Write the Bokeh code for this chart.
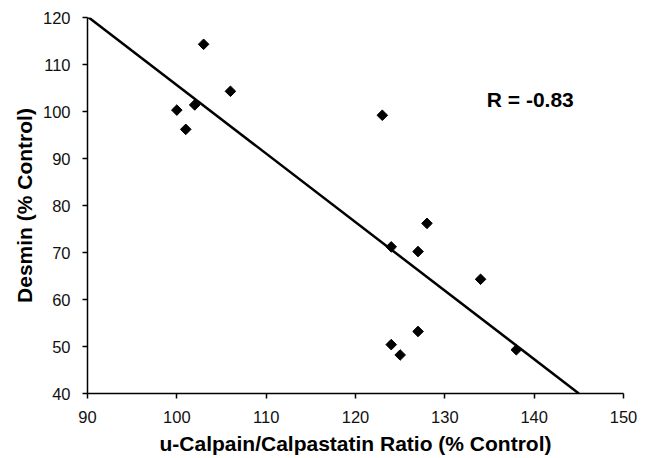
import numpy as np
from bokeh.plotting import figure
from bokeh.models import Range1d, FixedTicker, Label
from bokeh.embed import file_html
from bokeh.resources import INLINE

# data
ratio = [100, 101, 102, 103, 106, 123, 124, 127, 128, 134, 124, 125, 127, 138]
desmin = [100.3, 96.2, 101.4, 114.3, 104.3, 99.2, 71.2, 70.2, 76.2, 64.3, 50.4, 48.2, 53.2, 49.3]
fit_x = [90, 145]
fit_y = [120.2, 40]
x_ticks = [90, 100, 110, 120, 130, 140, 150]
y_ticks = [40, 50, 60, 70, 80, 90, 100, 110, 120]
r_label = "R = -0.83"

FONT = "Liberation Sans"

p = figure(width=649, height=458, output_backend="svg", toolbar_location=None,
           x_range=Range1d(90, 150), y_range=Range1d(40, 120),
           min_border_left=87, min_border_right=26, min_border_top=17, min_border_bottom=65)
p.frame_width = 536
p.frame_height = 376
p.outline_line_color = None
p.grid.visible = False
p.background_fill_color = "white"
p.border_fill_color = "white"

p.line(fit_x, fit_y, line_color="black", line_width=2.5)
p.scatter(ratio, desmin, marker="square", size=7.5, angle=np.pi / 4,
          fill_color="black", line_color="black")

p.add_layout(Label(x=134.7, y=102.5, text=r_label, text_font=FONT,
                   text_font_size="21px", text_font_style="bold",
                   text_color="black", text_baseline="alphabetic"))

for ax, ticks in ((p.xaxis, x_ticks), (p.yaxis, y_ticks)):
    ax.ticker = FixedTicker(ticks=ticks)
    ax.minor_tick_line_color = None
    ax.major_tick_in = 0
    ax.major_tick_out = 5
    ax.axis_line_color = "black"
    ax.axis_line_width = 1.5
    ax.major_tick_line_color = "black"
    ax.major_tick_line_width = 1.5
    ax.major_label_text_font = FONT
    ax.major_label_text_font_size = "16.5px"
    ax.major_label_text_color = "#111111"
    ax.axis_label_text_font = FONT
    ax.axis_label_text_font_size = "21px"
    ax.axis_label_text_font_style = "bold"
    ax.axis_label_text_color = "black"

p.xaxis.axis_label = "u-Calpain/Calpastatin Ratio (% Control)"
p.yaxis.axis_label = "Desmin (% Control)"
p.xaxis.major_label_standoff = 12
p.xaxis.axis_label_standoff = 6
p.yaxis.major_label_standoff = 12
p.yaxis.axis_label_standoff = 4

open("out.html", "w").write(file_html(p, INLINE))
